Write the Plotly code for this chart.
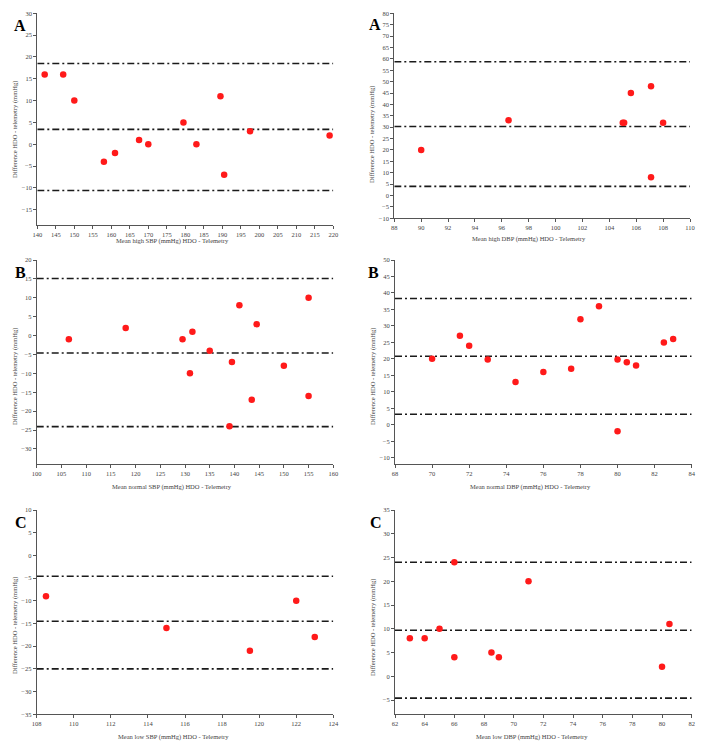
import plotly.graph_objects as go

# page is 705x750; the html body adds an 8px margin, so the figure is
# drawn at (8, 8) and sized to fill the rest of the window.
PAGE_W, PAGE_H = 705, 750
OFF = 8
W, H = PAGE_W - OFF, PAGE_H - OFF

# ---------------- data ----------------
p1_x = [142, 147, 150, 158, 161, 167.5, 170, 179.5, 183, 189.5, 190.5, 197.5, 219]
p1_y = [16, 16, 10, -4, -2, 1, 0, 5, 0, 11, -7, 3, 2]
p1_lines = [18.5, 3.4, -10.6]

p2_x = [90, 96.5, 105, 105.1, 105.6, 107.1, 107.1, 108]
p2_y = [20, 33, 32, 32, 45, 48, 8, 32]
p2_lines = [58.7, 30.3, 4.0]

p3_x = [106.5, 118, 129.5, 131.5, 131, 135, 139.5, 139, 141, 143.5, 144.5, 150, 155, 155]
p3_y = [-1, 2, -1, 1, -10, -4, -7, -24, 8, -17, 3, -8, 10, -16]
p3_lines = [15.1, -4.6, -24.1]

p4_x = [70, 71.5, 72, 73, 74.5, 76, 77.5, 78, 79, 80, 80, 80.5, 81, 82.5, 83]
p4_y = [20, 27, 24, 19.8, 13, 16, 17, 32, 36, 19.8, -2, 19, 18, 25, 26]
p4_lines = [38.3, 20.8, 3.2]

p5_x = [108.5, 115, 119.5, 122, 123]
p5_y = [-9, -16, -21, -10, -18]
p5_lines = [-4.6, -14.5, -25.0]

p6_x = [63, 64, 65, 66, 66, 68.5, 69, 71, 80, 80.5]
p6_y = [8, 8, 10, 24, 4, 5, 4, 20, 2, 11]
p6_lines = [24.0, 9.7, -4.6]

letters = ["A", "A", "B", "B", "C", "C"]
x_titles = [
    "Mean high SBP (mmHg) HDO - Telemetry",
    "Mean high DBP (mmHg) HDO - Telemetry",
    "Mean normal SBP (mmHg) HDO - Telemetry",
    "Mean normal DBP (mmHg) HDO - Telemetry",
    "Mean low SBP (mmHg) HDO - Telemetry",
    "Mean low DBP (mmHg) HDO - Telemetry",
]
y_title = "Difference HDO - telemetry (mmHg)"

x_ranges = [[140, 220], [88, 110], [100, 160], [68, 84], [108, 124], [62, 82]]
x_dticks = [5, 2, 5, 2, 2, 2]
y_ranges = [[-18.5, 30], [-10, 80], [-34, 20], [-12, 50], [-35, 10], [-8, 35]]

# ---------------- layout (page pixels) ----------------
# (left, right, top, bottom) of each plot area
boxes = [
    (37.3, 333.3, 13.3, 225.0),
    (394.3, 690.0, 13.3, 218.3),
    (36.7, 333.3, 260.0, 464.0),
    (395.0, 691.7, 260.0, 464.3),
    (36.7, 333.3, 510.0, 714.3),
    (395.0, 691.7, 510.0, 714.3),
]
letter_pos = [(20, 25), (375, 24), (20, 272), (373, 272), (21, 522), (376, 522)]
xtitle_pos = [(172, 241), (529, 239), (172, 487), (530, 487), (173, 737), (532, 737)]
ytitle_pos = [(15, 130), (372, 135), (15, 377), (373, 377), (15, 626), (373, 628)]

panels = [
    (p1_x, p1_y, p1_lines),
    (p2_x, p2_y, p2_lines),
    (p3_x, p3_y, p3_lines),
    (p4_x, p4_y, p4_lines),
    (p5_x, p5_y, p5_lines),
    (p6_x, p6_y, p6_lines),
]


def fx(px):
    return (px - OFF) / W


def fy(py):
    return 1 - (py - OFF) / H


FONT = "Liberation Serif, Times New Roman, serif"
TXT = "#444"
fig = go.Figure()
layout = dict(
    width=W, height=H, margin=dict(l=0, r=0, t=0, b=0, autoexpand=False),
    paper_bgcolor="white", plot_bgcolor="white", showlegend=False,
    font=dict(family=FONT, size=6.5, color=TXT),
)
annotations = []

for i, ((xs, ys, lines), box) in enumerate(zip(panels, boxes)):
    n = i + 1
    xa = "x" if n == 1 else f"x{n}"
    ya = "y" if n == 1 else f"y{n}"
    l, r, t, b = box
    # reference lines (upper LoA, mean, lower LoA)
    for v in lines:
        fig.add_trace(go.Scatter(
            x=[x_ranges[i][0], x_ranges[i][1]], y=[v, v], mode="lines",
            xaxis=xa, yaxis=ya, hoverinfo="skip",
            line=dict(color="#1a1a1a", width=1.6, dash="7px,3px,2px,3px"),
        ))
    fig.add_trace(go.Scatter(
        x=xs, y=ys, mode="markers", xaxis=xa, yaxis=ya,
        marker=dict(color="#ff1a1a", size=6.5, line=dict(width=0)),
    ))
    axcommon = dict(
        showgrid=False, zeroline=False, showline=True, linecolor="#555",
        linewidth=1, ticks="outside", ticklen=3, tickcolor="#555",
        tickfont=dict(family=FONT, size=6.5, color=TXT), automargin=False,
    )
    layout["xaxis" if n == 1 else f"xaxis{n}"] = dict(
        domain=[fx(l), fx(r)], range=x_ranges[i], dtick=x_dticks[i], tick0=0,
        anchor=ya, ticklabelstandoff=0, **axcommon,
    )
    layout["yaxis" if n == 1 else f"yaxis{n}"] = dict(
        domain=[fy(b), fy(t)], range=y_ranges[i], dtick=5, tick0=0, anchor=xa,
        **axcommon,
    )
    lx, ly = letter_pos[i]
    annotations.append(dict(
        text=f"<b>{letters[i]}</b>", x=fx(lx), y=fy(ly), xref="paper", yref="paper",
        showarrow=False, xanchor="center", yanchor="middle",
        font=dict(family=FONT, size=16, color="black"),
    ))
    tx, ty = xtitle_pos[i]
    annotations.append(dict(
        text=x_titles[i], x=fx(tx), y=fy(ty), xref="paper", yref="paper",
        showarrow=False, xanchor="center", yanchor="middle",
        font=dict(family=FONT, size=6.5, color=TXT),
    ))
    yx, yy = ytitle_pos[i]
    annotations.append(dict(
        text=y_title, x=fx(yx), y=fy(yy), xref="paper", yref="paper",
        showarrow=False, xanchor="center", yanchor="middle", textangle=-90,
        font=dict(family=FONT, size=6.5, color=TXT),
    ))

layout["annotations"] = annotations
fig.update_layout(**layout)
fig.write_html("out.html")
